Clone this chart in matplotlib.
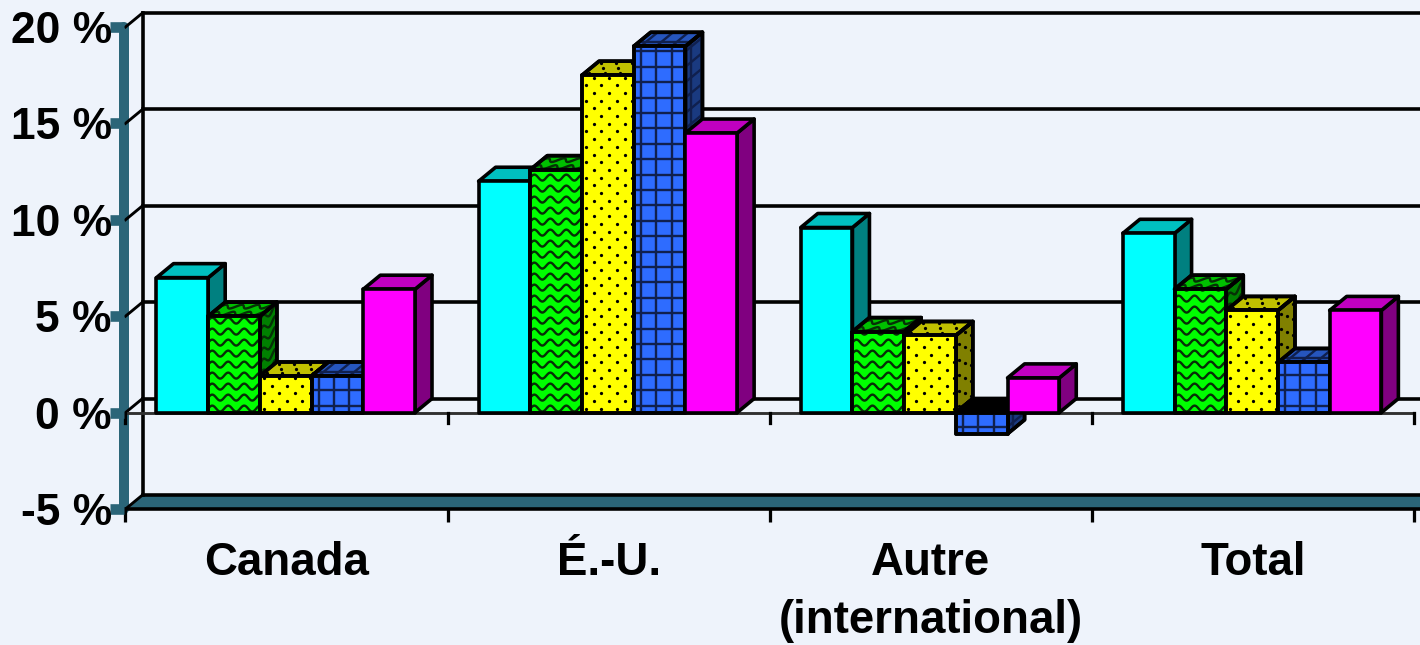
#!/usr/bin/env python3

import numpy as np
import matplotlib
matplotlib.use('Agg')
import matplotlib.pyplot as plt
from matplotlib.patches import Polygon

categories = ['Canada', 'É.-U.', 'Autre\n(international)', 'Total']
y_ticks = [-5, 0, 5, 10, 15, 20]

cyan_values = [7.0, 12.0, 9.6, 9.3]
green_values = [5.0, 12.6, 4.2, 6.4]
yellow_values = [1.9, 17.5, 4.0, 5.3]
blue_values = [1.9, 19.0, -1.1, 2.6]
magenta_values = [6.4, 14.5, 1.8, 5.3]

W, H, DPI = 1420, 645, 90
LEFT, RIGHT, TOP, BOTTOM = 125.5, 1414, 27, 509
BG = '#EEF3FB'
TEAL = '#2B6578'

# data units per pixel
PX = 4 / (RIGHT - LEFT)
PY = 25 / (BOTTOM - TOP)
DEPTH_X = 17 * PX
DEPTH_Y = 14 * PY
DEPTH_LEN = 22
BAR_W = 51.7 * PX
GAP = 31 * PX
LW = 3.6 * 72 / DPI

series = [
    (cyan_values, '#00FFFF', '#00C0C0', '#008080', None),
    (green_values, '#00FF00', '#00C000', '#008000', 'wave'),
    (yellow_values, '#FFFF00', '#C0C000', '#808000', 'dots'),
    (blue_values, '#2E6CFF', '#2656BE', '#1A3A80', 'grid'),
    (magenta_values, '#FF00FF', '#C000C0', '#800080', None),
]


def add_texture(ax, patch, pattern, origin, e_u, e_v, size_u, size_v, z):
    # pattern is laid out in pixels on the face, then mapped onto it
    ox, oy = origin

    def to_data(u, v):
        return ox + u * e_u[0] + v * e_v[0], oy + u * e_u[1] + v * e_v[1]

    artists = []
    if pattern == 'dots':
        us, vs = [], []
        for r, v in enumerate(np.arange(4, size_v + 4, 7.7)):
            start = 4 if r % 2 == 0 else 11.7
            for u in np.arange(start, size_u + 4, 15.4):
                us.append(u)
                vs.append(v)
        xs, ys = to_data(np.array(us), np.array(vs))
        artists += ax.plot(xs, ys, ls='none', marker='o', ms=2.6, color='black', mew=0)
    elif pattern == 'wave':
        u = np.arange(-2, size_u + 3, 1.0)
        for v in np.arange(4, size_v + 11, 11.0):
            xs, ys = to_data(u, v + 3.0 * np.sin(2 * np.pi * u / 16.0))
            artists += ax.plot(xs, ys, color='#063006', lw=1.9)
    elif pattern == 'grid':
        for u in np.arange(7, size_u + 1, 15.4):
            xs, ys = to_data(np.array([u, u]), np.array([0, size_v]))
            artists += ax.plot(xs, ys, color='#10204E', lw=1.9)
        for v in np.arange(7, size_v + 1, 15.4):
            xs, ys = to_data(np.array([0, size_u]), np.array([v, v]))
            artists += ax.plot(xs, ys, color='#10204E', lw=1.9)
    for a in artists:
        a.set_clip_path(patch)
        a.set_zorder(z)


def draw_bar(ax, x, value, front, top, side, pattern, z):
    y0, y1 = min(0, value), max(0, value)
    rect = ax.bar(x, value, BAR_W, align='edge', color=front, edgecolor='black',
                  linewidth=LW, zorder=z + 2, clip_on=False)[0]
    rect.set_joinstyle('round')

    side_poly = Polygon([(x + BAR_W, y0), (x + BAR_W + DEPTH_X, y0 + DEPTH_Y),
                         (x + BAR_W + DEPTH_X, y1 + DEPTH_Y), (x + BAR_W, y1)],
                        facecolor=side, edgecolor='black', linewidth=LW,
                        joinstyle='round', zorder=z, clip_on=False)
    top_color = 'black' if value < 0 else top
    top_poly = Polygon([(x, y1), (x + DEPTH_X, y1 + DEPTH_Y),
                        (x + BAR_W + DEPTH_X, y1 + DEPTH_Y), (x + BAR_W, y1)],
                       facecolor=top_color, edgecolor='black', linewidth=LW,
                       joinstyle='round', zorder=z, clip_on=False)
    ax.add_patch(side_poly)
    ax.add_patch(top_poly)

    if pattern:
        add_texture(ax, side_poly, pattern, (x + BAR_W, y0),
                    (DEPTH_X / DEPTH_LEN, DEPTH_Y / DEPTH_LEN), (0, PY),
                    DEPTH_LEN, (y1 - y0) / PY, z + 1)
        if value >= 0:
            add_texture(ax, top_poly, pattern, (x, y1), (PX, 0),
                        (DEPTH_X / DEPTH_LEN, DEPTH_Y / DEPTH_LEN),
                        52, DEPTH_LEN, z + 1)
        add_texture(ax, rect, pattern, (x, y0), (PX, 0), (0, PY),
                    52, (y1 - y0) / PY, z + 3)
        # outline again over the pattern
        outline = ax.bar(x, value, BAR_W, align='edge', fill=False, edgecolor='black',
                         linewidth=LW, zorder=z + 3.5, clip_on=False)[0]
        outline.set_joinstyle('round')
        for poly in (side_poly, top_poly):
            ax.add_patch(Polygon(poly.get_xy(), fill=False, edgecolor='black',
                                 linewidth=LW, joinstyle='round', zorder=z + 1.5,
                                 clip_on=False))


def main():
    plt.rcParams['font.family'] = ['Liberation Sans', 'DejaVu Sans']
    fig = plt.figure(figsize=(W / DPI, H / DPI), dpi=DPI, facecolor=BG)
    ax = fig.add_axes([LEFT / W, 1 - BOTTOM / H, (RIGHT - LEFT) / W, (BOTTOM - TOP) / H])
    ax.set_facecolor('none')
    ax.set_xlim(0, 4)
    ax.set_ylim(-5, 20)

    for name in ('top', 'right', 'bottom'):
        ax.spines[name].set_visible(False)
    ax.spines['left'].set_color(TEAL)
    ax.spines['left'].set_linewidth(8)
    ax.spines['left'].set_zorder(1)
    ax.spines['left'].set_position(('outward', 1))
    ax.spines['left'].set_capstyle('round')

    x_far = 4 + 20 * PX

    # floor, walls and gridlines
    ax.add_patch(Polygon([(0, -5), (DEPTH_X, -5 + DEPTH_Y), (x_far, -5 + DEPTH_Y), (x_far, -5)],
                         facecolor=TEAL, edgecolor='none', zorder=1, clip_on=False))
    ax.plot([0, x_far], [-5, -5], color='black', lw=LW, zorder=1.5, clip_on=False)
    for v in y_ticks:
        back = v + DEPTH_Y
        ax.plot([DEPTH_X, x_far], [back, back], color='black', lw=LW, zorder=1.2, clip_on=False)
        ax.plot([0, DEPTH_X], [v, back], color='black', lw=LW * 0.8, zorder=1.2, clip_on=False)
    ax.plot([DEPTH_X, DEPTH_X], [-5 + DEPTH_Y, 20 + DEPTH_Y], color='black', lw=LW,
            zorder=1.2, clip_on=False)
    ax.plot([0, 4], [0, 0], color='#303030', lw=LW * 0.8, zorder=1.5, clip_on=False)

    # y axis
    ax.set_yticks(y_ticks)
    ax.set_yticklabels([f'{v} %' for v in y_ticks], fontsize=35.5, fontweight='bold')
    ax.tick_params(axis='y', length=11, width=8.5, color=TEAL, pad=-1)
    for tick in ax.yaxis.get_major_ticks():
        tick.tick1line.set_zorder(1)

    # x axis: separators on integer positions, names in between
    ax.set_xticks(range(5))
    ax.set_xticklabels([])
    ax.tick_params(axis='x', length=10, width=LW * 0.9, color='black')
    ax.set_xticks(np.arange(4) + 0.5, minor=True)
    ax.set_xticklabels(categories, minor=True, fontsize=36.5, fontweight='bold',
                       linespacing=1.42)
    ax.tick_params(axis='x', which='minor', length=0, pad=25.5)
    for c in range(5):
        ax.plot([c, c], [0, -10 * PY], color='black', lw=LW * 0.9, zorder=1.5, clip_on=False)

    # bars, left to right so that each one hides the side of the previous
    z = 3
    for c in range(len(categories)):
        for i, (values, front, top, side, pattern) in enumerate(series):
            draw_bar(ax, c + GAP + i * BAR_W, values[c], front, top, side, pattern, z)
            z += 5

    fig.savefig('out.png', dpi=DPI, facecolor=BG)


if __name__ == "__main__":
    main()
